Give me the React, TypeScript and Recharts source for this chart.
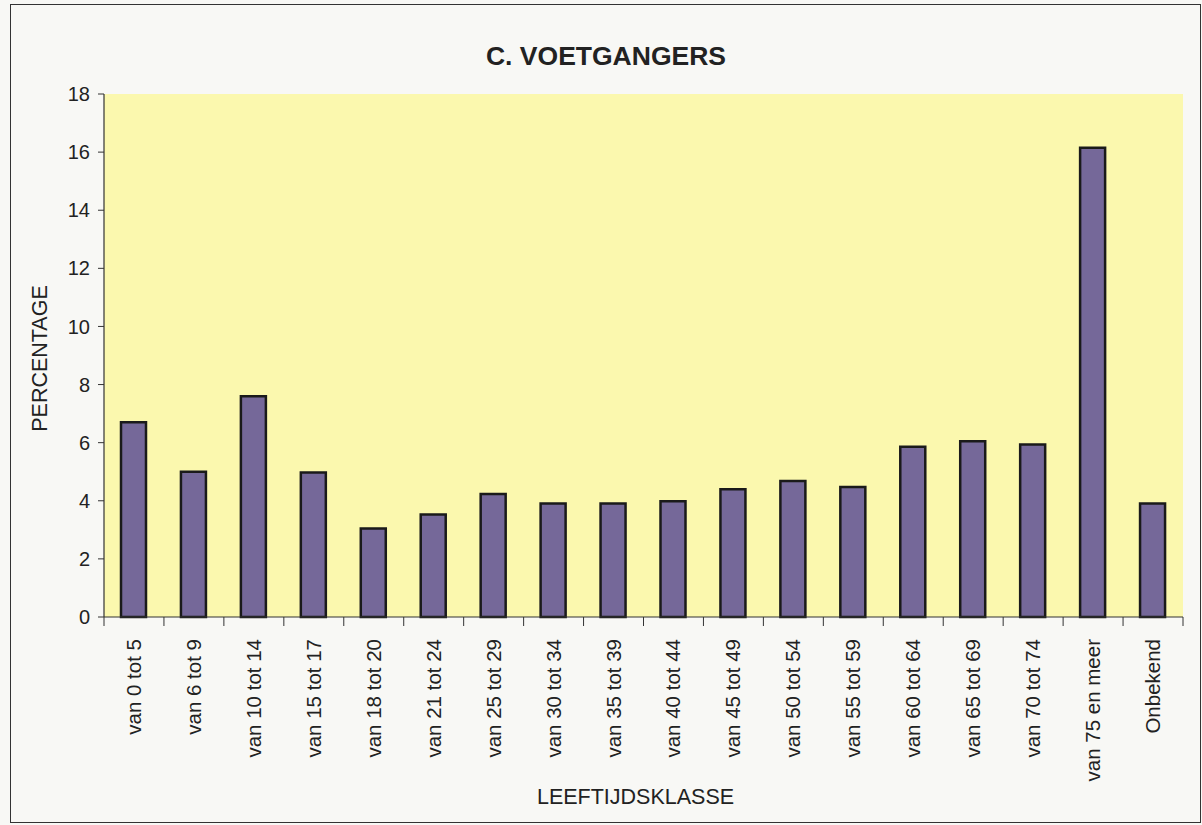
import { BarChart, Bar, XAxis, YAxis, CartesianGrid } from "recharts";

document.body.style.margin = "0";

const categories = [
  "van 0 tot 5",
  "van 6 tot 9",
  "van 10 tot 14",
  "van 15 tot 17",
  "van 18 tot 20",
  "van 21 tot 24",
  "van 25 tot 29",
  "van 30 tot 34",
  "van 35 tot 39",
  "van 40 tot 44",
  "van 45 tot 49",
  "van 50 tot 54",
  "van 55 tot 59",
  "van 60 tot 64",
  "van 65 tot 69",
  "van 70 tot 74",
  "van 75 en meer",
  "Onbekend",
];

const percentages = [
  6.7, 5.0, 7.6, 4.97, 3.05, 3.53, 4.23, 3.91, 3.91, 3.98, 4.4, 4.68, 4.47,
  5.86, 6.05, 5.94, 16.15, 3.91,
];

const yTicks = [0, 2, 4, 6, 8, 10, 12, 14, 16, 18];

const data = categories.map((name, i) => ({ name, value: percentages[i] }));

const W = 1202;
const H = 825;
const MARGIN = { top: 94, right: 19, bottom: 18, left: 24 };
const Y_AXIS_W = 80;
const band = (W - MARGIN.left - Y_AXIS_W - MARGIN.right) / categories.length;
const FONT = "'Liberation Sans', Arial, Helvetica, sans-serif";
const INK = "#222";

const CategoryTick = ({ x, y, payload, index }: any) => {
  const i = index ?? payload.index;
  return (
    <g transform={`translate(${x},${y})`}>
      <line x1={-band / 2} x2={-band / 2} y1={0} y2={9} stroke="#333" />
      {i === categories.length - 1 && (
        <line x1={band / 2} x2={band / 2} y1={0} y2={9} stroke="#333" />
      )}
      <text
        transform="rotate(-90)"
        x={-22}
        y={7}
        textAnchor="end"
        fontSize={20.5}
        fontFamily={FONT}
        fill={INK}
      >
        {payload.value}
      </text>
    </g>
  );
};

const YLabel = (props: any) => {
  const vb = props.viewBox;
  const cx = vb.x + 16;
  const cy = vb.y + vb.height / 2 + 3;
  return (
    <text
      x={cx}
      y={cy}
      transform={`rotate(-90, ${cx}, ${cy})`}
      textAnchor="middle"
      dominantBaseline="central"
      fontSize={21.5}
      fontFamily={FONT}
      fill={INK}
    >
      PERCENTAGE
    </text>
  );
};

const XLabel = (props: any) => {
  const vb = props.viewBox;
  return (
    <text
      x={vb.x + vb.width / 2 - 8}
      y={vb.y + vb.height - 10}
      textAnchor="middle"
      dominantBaseline="central"
      fontSize={21.5}
      fontFamily={FONT}
      fill={INK}
    >
      LEEFTIJDSKLASSE
    </text>
  );
};

const App = () => {
  return (
    <div style={{ position: "relative", width: W, height: H, background: "#f8f8f5" }}>
      <div
        style={{
          position: "absolute",
          left: 10,
          top: 4,
          right: 1,
          bottom: 2,
          border: "1.5px solid #333",
        }}
      />
      <div
        style={{
          position: "absolute",
          top: 41,
          left: 0,
          width: W + 10,
          textAlign: "center",
          fontFamily: FONT,
          fontWeight: "bold",
          fontSize: 26.5,
          color: INK,
        }}
      >
        C. VOETGANGERS
      </div>
      <BarChart width={W} height={H} data={data} margin={MARGIN}>
        <CartesianGrid
          horizontal={false}
          vertical={false}
          fill="#fbf8ae"
          fillOpacity={1}
        />
        <XAxis
          dataKey="name"
          interval={0}
          height={190}
          tickSize={0}
          tickMargin={0}
          tick={<CategoryTick />}
          axisLine={{ stroke: "#333", strokeWidth: 1.2 }}
          label={{ value: "LEEFTIJDSKLASSE", content: <XLabel /> }}
        />
        <YAxis
          width={Y_AXIS_W}
          domain={[0, 18]}
          ticks={yTicks}
          interval={0}
          tickSize={6}
          tickMargin={8}
          tick={{ fontSize: 20, fontFamily: FONT, fill: INK }}
          axisLine={{ stroke: "#333", strokeWidth: 1.2 }}
          tickLine={{ stroke: "#333" }}
          label={{ value: "PERCENTAGE", content: <YLabel /> }}
        />
        <Bar
          dataKey="value"
          fill="#756899"
          stroke="#1a1a1a"
          strokeWidth={2.5}
          barSize={25}
          isAnimationActive={false}
        />
      </BarChart>
    </div>
  );
};

export default App;
